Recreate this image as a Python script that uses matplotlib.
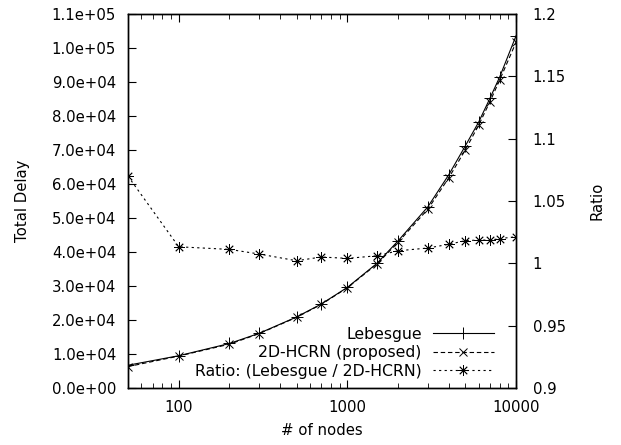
import matplotlib
matplotlib.use("Agg")
import matplotlib.pyplot as plt
from matplotlib.ticker import FixedLocator, FuncFormatter, LogLocator, NullFormatter

plt.rcParams["font.family"] = ["DejaVu Sans"]
plt.rcParams["font.size"] = 10.7

# data
nodes = [50, 100, 200, 300, 500, 700, 1000, 1500, 2000, 3000, 4000, 5000, 6000, 7000, 8000, 10000]
lebesgue = [6700, 9500, 13100, 16100, 20900, 24700, 29600, 36700, 43300, 53300,
            62800, 71200, 78200, 85200, 91500, 103600]
proposed = [6300, 9400, 12900, 16000, 20800, 24600, 29500, 36500, 42900, 52600,
            61900, 70000, 77300, 84200, 90600, 101700]
ratio = [1.070, 1.0133, 1.0112, 1.0075, 1.0021, 1.0051, 1.0040, 1.0061, 1.0101, 1.0123,
         1.0153, 1.0182, 1.0187, 1.0187, 1.0198, 1.0214]

left_ticks = [i * 1e4 for i in range(12)]
right_ticks = [0.9, 0.95, 1.0, 1.05, 1.1, 1.15, 1.2]
x_ticks = [100, 1000, 10000]

fig = plt.figure(figsize=(6.21, 4.45), dpi=100)
ax = fig.add_axes([0.206, 0.128, 0.625, 0.8405])
ax2 = ax.twinx()

star = (8, 2, 0)
l1, = ax.plot(nodes, lebesgue, color="black", lw=0.8, marker="+", ms=8, mew=0.7,
              label="Lebesgue")
l2, = ax.plot(nodes, proposed, color="black", lw=0.8, ls=(0, (4, 2.5)), marker="x", ms=6,
              mew=0.7, label="2D-HCRN (proposed)")
l3, = ax2.plot(nodes, ratio, color="black", lw=0.8, ls=(0, (2, 3)), marker=star, ms=7.5,
               mew=0.6, label="Ratio: (Lebesgue / 2D-HCRN)")

ax.set_xscale("log")
ax.set_xlim(50, 10000)
ax.set_ylim(0, 1.1e5)
ax2.set_ylim(0.9, 1.2)

ax.xaxis.set_major_locator(FixedLocator(x_ticks))
ax.xaxis.set_major_formatter(FuncFormatter(lambda v, p: f"{v:g}"))
ax.xaxis.set_minor_locator(LogLocator(base=10, subs=range(2, 10)))
ax.xaxis.set_minor_formatter(NullFormatter())
ax.yaxis.set_major_locator(FixedLocator(left_ticks))
ax.yaxis.set_major_formatter(FuncFormatter(lambda v, p: f"{v:.1e}"))
ax2.yaxis.set_major_locator(FixedLocator(right_ticks))
ax2.yaxis.set_major_formatter(FuncFormatter(lambda v, p: f"{v:g}"))

ax.tick_params(axis="x", which="both", direction="in", top=True, pad=8.5)
ax.tick_params(axis="x", which="major", length=6)
ax.tick_params(axis="x", which="minor", length=3.5)
ax.tick_params(axis="y", direction="in", length=6, right=False, pad=8.5)
ax2.tick_params(axis="y", direction="in", length=6, pad=12)

for a in (ax, ax2):
    for s in a.spines.values():
        s.set_linewidth(1.0)

ax.set_xlabel("# of nodes", labelpad=6)
ax.set_ylabel("Total Delay", labelpad=15.5)
ax2.set_ylabel("Ratio", labelpad=17)

ax.legend(handles=[l1, l2, l3], loc="lower right", frameon=False, markerfirst=False,
          handlelength=3.9, handletextpad=0.7, labelspacing=0.22, borderaxespad=0.2,
          fontsize=11.3, bbox_to_anchor=(0.967, 0.0))

fig.savefig("out.png", dpi=100)
